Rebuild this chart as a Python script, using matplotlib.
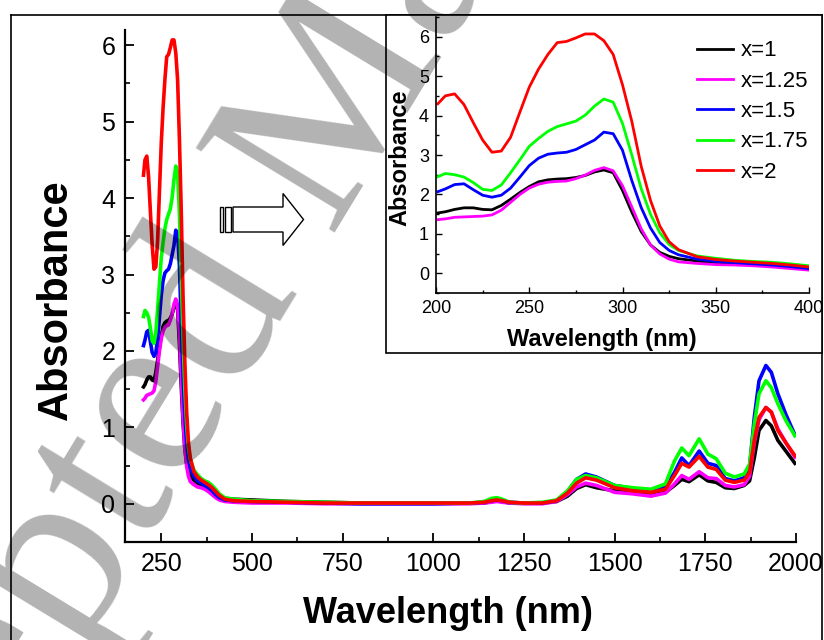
import matplotlib
matplotlib.use("Agg")
import matplotlib.pyplot as plt
from matplotlib.patches import Rectangle, Polygon
from matplotlib.ticker import MultipleLocator

plt.rcParams['font.family'] = ['Liberation Sans', 'DejaVu Sans']

# ---------------- data ----------------
wl_uv = [201, 205, 210, 215, 220, 225, 230, 235, 240, 245, 250, 255, 260, 265,
         270, 275, 280, 285, 290, 295, 300, 305, 310, 315, 320, 325, 330,
         340, 350, 360, 370, 380, 390, 400]
wl_nir = [410, 425, 450, 500, 600, 700, 800, 900, 1000, 1100,
          1140, 1160, 1175, 1190, 1210, 1250, 1300, 1340, 1370, 1395,
          1420, 1450, 1500, 1550, 1600, 1640, 1665, 1685, 1705, 1733,
          1757, 1780, 1805, 1830, 1857, 1872, 1885, 1898, 1917, 1932,
          1950, 1972, 1997]
wavelength = wl_uv + wl_nir

x1_uv = [1.53, 1.56, 1.62, 1.66, 1.66, 1.62, 1.61, 1.72, 1.88, 2.05, 2.20, 2.32, 2.37, 2.39,
         2.40, 2.43, 2.48, 2.57, 2.62, 2.55, 2.10, 1.55, 1.06, 0.72, 0.53, 0.43, 0.37,
         0.31, 0.27, 0.25, 0.23, 0.21, 0.17, 0.12]
x1_nir = [0.09, 0.07, 0.06, 0.05, 0.03, 0.02, 0.01, 0.01, 0.01, 0.01,
          0.01, 0.03, 0.04, 0.03, 0.01, 0.01, 0.01, 0.03, 0.10, 0.20,
          0.25, 0.21, 0.17, 0.14, 0.12, 0.15, 0.24, 0.32, 0.29, 0.38,
          0.30, 0.28, 0.21, 0.20, 0.24, 0.30, 0.60, 0.96, 1.09, 1.02,
          0.83, 0.69, 0.53]

x125_uv = [1.36, 1.38, 1.42, 1.43, 1.44, 1.45, 1.48, 1.60, 1.80, 2.00, 2.16, 2.26, 2.31, 2.33,
           2.34, 2.40, 2.49, 2.61, 2.68, 2.60, 2.22, 1.68, 1.13, 0.72, 0.49, 0.36, 0.29,
           0.25, 0.22, 0.21, 0.19, 0.16, 0.12, 0.08]
x125_nir = [0.05, 0.03, 0.02, 0.01, 0.01, 0.00, 0.00, 0.00, 0.00, 0.00,
            0.01, 0.02, 0.03, 0.02, 0.01, 0.00, 0.00, 0.03, 0.12, 0.22,
            0.27, 0.24, 0.15, 0.13, 0.10, 0.14, 0.26, 0.37, 0.32, 0.42,
            0.34, 0.33, 0.24, 0.22, 0.25, 0.36, 0.80, 1.10, 1.26, 1.20,
            0.98, 0.80, 0.61]

x15_uv = [2.07, 2.14, 2.25, 2.27, 2.12, 1.98, 1.93, 1.98, 2.16, 2.44, 2.73, 2.92, 3.02, 3.05,
          3.07, 3.14, 3.26, 3.38, 3.58, 3.54, 3.12, 2.35, 1.67, 1.15, 0.78, 0.58, 0.47,
          0.36, 0.30, 0.27, 0.24, 0.21, 0.17, 0.12]
x15_nir = [0.08, 0.05, 0.04, 0.03, 0.02, 0.01, 0.00, 0.00, 0.00, 0.01,
           0.02, 0.04, 0.05, 0.04, 0.02, 0.01, 0.01, 0.04, 0.16, 0.32,
           0.39, 0.35, 0.24, 0.20, 0.18, 0.22, 0.41, 0.60, 0.50, 0.69,
           0.53, 0.50, 0.33, 0.30, 0.34, 0.48, 1.13, 1.61, 1.81, 1.72,
           1.44, 1.17, 0.90]

x175_uv = [2.45, 2.53, 2.50, 2.44, 2.30, 2.13, 2.10, 2.24, 2.55, 2.88, 3.22, 3.42, 3.60, 3.72,
           3.79, 3.86, 4.01, 4.24, 4.42, 4.34, 3.80, 3.00, 2.15, 1.50, 1.03, 0.73, 0.58,
           0.44, 0.38, 0.33, 0.30, 0.28, 0.24, 0.19]
x175_nir = [0.13, 0.08, 0.06, 0.04, 0.03, 0.02, 0.01, 0.01, 0.01, 0.01,
            0.03, 0.07, 0.08, 0.06, 0.02, 0.01, 0.02, 0.05, 0.17, 0.32,
            0.37, 0.34, 0.24, 0.21, 0.19, 0.26, 0.56, 0.73, 0.63, 0.85,
            0.65, 0.59, 0.40, 0.35, 0.39, 0.52, 1.04, 1.44, 1.61, 1.52,
            1.31, 1.09, 0.89]

x2_uv = [4.30, 4.50, 4.55, 4.28, 3.82, 3.38, 3.07, 3.10, 3.45, 4.09, 4.72, 5.18, 5.55, 5.85,
         5.88, 5.97, 6.07, 6.07, 5.90, 5.55, 4.78, 3.85, 2.72, 1.85, 1.20, 0.80, 0.60,
         0.42, 0.35, 0.31, 0.28, 0.25, 0.21, 0.16]
x2_nir = [0.11, 0.06, 0.04, 0.03, 0.02, 0.01, 0.01, 0.01, 0.01, 0.01,
          0.02, 0.04, 0.05, 0.04, 0.02, 0.01, 0.01, 0.04, 0.14, 0.27,
          0.34, 0.31, 0.21, 0.17, 0.15, 0.19, 0.37, 0.53, 0.48, 0.62,
          0.48, 0.45, 0.31, 0.28, 0.31, 0.41, 0.83, 1.13, 1.26, 1.20,
          0.96, 0.80, 0.63]

labels = ['x=1', 'x=1.25', 'x=1.5', 'x=1.75', 'x=2']
colors = ['#000000', '#ff00ff', '#0000ff', '#00ff00', '#ff0000']
series = [x1_uv + x1_nir, x125_uv + x125_nir, x15_uv + x15_nir,
          x175_uv + x175_nir, x2_uv + x2_nir]

main_xticks = [250, 500, 750, 1000, 1250, 1500, 1750, 2000]
main_yticks = [0, 1, 2, 3, 4, 5, 6]
inset_xticks = [200, 250, 300, 350, 400]
inset_yticks = [0, 1, 2, 3, 4, 5, 6]

# ---------------- figure ----------------
W, H = 824, 640
fig = plt.figure(figsize=(W / 100, H / 100), dpi=100)


def fx(p):
    return p / W


def fy(p):
    return 1 - p / H


# main axes
ax = fig.add_axes([fx(125), fy(542), (796 - 125) / W, (542 - 30) / H])
for lab, col, ys in zip(labels, colors, series):
    ax.plot(wavelength, ys, color=col, lw=2.6, solid_joinstyle='round', label=lab)
ax.set_xlim(150, 2000)
ax.set_ylim(-0.5, 6.2)
ax.set_xticks(main_xticks)
ax.set_xticklabels([str(t) for t in main_xticks])
ax.set_yticks(main_yticks)
ax.set_yticklabels([str(t) for t in main_yticks])
ax.xaxis.set_minor_locator(MultipleLocator(125))
ax.yaxis.set_minor_locator(MultipleLocator(0.5))
for s in ['top', 'right']:
    ax.spines[s].set_visible(False)
for s in ['left', 'bottom']:
    ax.spines[s].set_linewidth(1.6)
ax.tick_params(which='major', direction='in', length=6.5, width=1.3, labelsize=18, pad=7)
ax.tick_params(which='minor', direction='in', length=3.5, width=1.2)
ax.set_xlabel('Wavelength (nm)', fontsize=26, fontweight='bold')
ax.set_ylabel('Absorbance', fontsize=30, fontweight='bold')
ax.xaxis.set_label_coords(0.481, -0.105)
ax.yaxis.set_label_coords(-0.073, 0.473)

# inset frame box
fig.patches.append(Rectangle((fx(386), fy(353)), (822 - 386) / W, (353 - 15) / H,
                             transform=fig.transFigure, facecolor='white',
                             edgecolor='black', lw=1.2, zorder=1))
# outer frame
for xs, ys_ in [([11, 11], [15, 660]), ([11, 822], [15, 15]), ([822, 822], [15, 660])]:
    fig.lines.append(plt.Line2D([fx(v) for v in xs], [fy(v) for v in ys_],
                                transform=fig.transFigure, color='black', lw=1.2, zorder=1))

# arrow annotation
arrow_pts = [(233, 207), (283, 207), (283, 193.5), (303.5, 219.5), (283, 245.5),
             (283, 232), (233, 232)]
fig.patches.append(Polygon([(fx(a), fy(b)) for a, b in arrow_pts], closed=True,
                           transform=fig.transFigure, facecolor='white',
                           edgecolor='black', lw=1.0, zorder=3))
for x0, x1 in [(220, 223), (225.3, 230.5)]:
    fig.patches.append(Rectangle((fx(x0), fy(232)), (x1 - x0) / W, (232 - 207) / H,
                                 transform=fig.transFigure, facecolor='white',
                                 edgecolor='black', lw=1.0, zorder=3))

# inset axes
axin = fig.add_axes([fx(436), fy(293), (809 - 436) / W, (293 - 17) / H])
axin.set_zorder(2)
for lab, col, ys in zip(labels, colors, series):
    axin.plot(wavelength, ys, color=col, lw=2.0, solid_joinstyle='round', label=lab)
axin.set_xlim(200, 400)
axin.set_ylim(-0.5, 6.5)
axin.set_xticks(inset_xticks)
axin.set_xticklabels([str(t) for t in inset_xticks])
axin.set_yticks(inset_yticks)
axin.set_yticklabels([str(t) for t in inset_yticks])
axin.xaxis.set_minor_locator(MultipleLocator(25))
axin.yaxis.set_minor_locator(MultipleLocator(0.5))
for s in ['top', 'right']:
    axin.spines[s].set_visible(False)
for s in ['left', 'bottom']:
    axin.spines[s].set_linewidth(1.2)
axin.tick_params(which='major', direction='in', length=4.5, width=1.0, labelsize=13, pad=5)
axin.tick_params(which='minor', direction='in', length=2.5, width=1.0)
axin.set_xlabel('Wavelength (nm)', fontsize=17, fontweight='bold')
axin.set_ylabel('Absorbance', fontsize=17, fontweight='bold')
axin.xaxis.set_label_coords(0.445, -0.127)
axin.yaxis.set_label_coords(-0.067, 0.49)
axin.legend(loc='upper left', bbox_to_anchor=(0.70, 0.915), frameon=False,
            fontsize=16, handlelength=1.6, handletextpad=0.35, labelspacing=0.42,
            borderpad=0, borderaxespad=0)

# watermark
fig.text(fx(-185), fy(1088), 'Accepted Manuscript', family='Liberation Serif',
         fontsize=178, rotation=58.7, rotation_mode='anchor', ha='left', va='baseline',
         color='black', alpha=0.3, zorder=10)

fig.savefig('out.png', dpi=100)
